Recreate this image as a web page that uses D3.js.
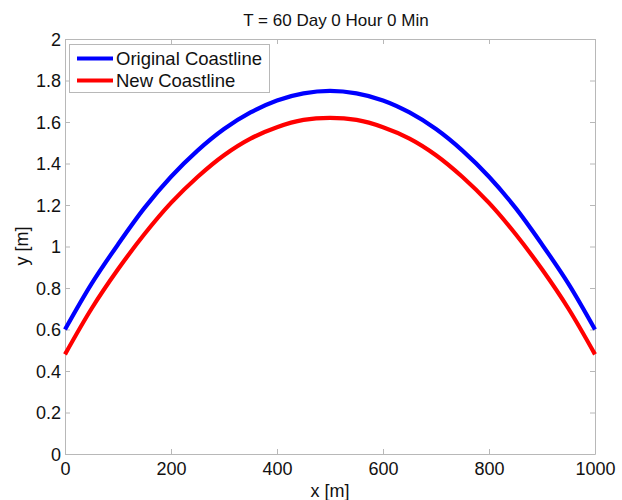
<!DOCTYPE html>
<html><head><meta charset="utf-8">
<script src="https://cdn.jsdelivr.net/npm/d3@7"></script>
<style>body{margin:0;background:#fff}text{font-family:"Liberation Sans",Arial,sans-serif}</style>
</head><body><svg id="c" width="622" height="500"></svg>
<script>
const xs = [0,50,100,150,200,250,300,350,400,450,500,550,600,650,700,750,800,850,900,950,1000];
const original = [0.60,0.82,1.01,1.186,1.336,1.462,1.566,1.646,1.704,1.738,1.75,1.738,1.704,1.646,1.566,1.462,1.336,1.186,1.01,0.82,0.60];
const newLine = [0.48,0.70,0.89,1.06,1.21,1.335,1.44,1.52,1.575,1.61,1.62,1.61,1.575,1.52,1.44,1.335,1.21,1.06,0.89,0.70,0.48];
const xTicks = [0,200,400,600,800,1000];
const yTicks = [0,0.2,0.4,0.6,0.8,1,1.2,1.4,1.6,1.8,2];
const seriesNames = ["Original Coastline","New Coastline"];
const colors = ["#0000ff","#ff0000"];
const title = "T = 60 Day 0 Hour 0 Min";

const svg = d3.select("#c");
const L=65,R=595,T=39,B=454;
const x = d3.scaleLinear().domain([0,1000]).range([L,R]);
const y = d3.scaleLinear().domain([0,2]).range([B,T]);
const axCol="#b8b8b8";
const g = svg.append("g");
const fmt = d => String(d);
const axBottom = g.append("g").attr("transform",`translate(0,${B})`).call(d3.axisBottom(x).tickValues(xTicks).tickFormat(fmt).tickSizeInner(-5).tickSizeOuter(0));
const axTop = g.append("g").attr("transform",`translate(0,${T})`).call(d3.axisTop(x).tickValues(xTicks).tickFormat("").tickSizeInner(-5).tickSizeOuter(0));
const axLeft = g.append("g").attr("transform",`translate(${L},0)`).call(d3.axisLeft(y).tickValues(yTicks).tickFormat(fmt).tickSizeInner(-5).tickSizeOuter(0).tickPadding(4));
const axRight = g.append("g").attr("transform",`translate(${R},0)`).call(d3.axisRight(y).tickValues(yTicks).tickFormat("").tickSizeInner(-5).tickSizeOuter(0));
[axBottom,axTop,axLeft,axRight].forEach(a=>{a.selectAll("path,line").attr("stroke",axCol);a.selectAll("text").attr("fill","#111").style("font-size","18px");});
axBottom.selectAll("text").attr("y",21).attr("dy","0");
axLeft.selectAll("text").attr("dy","0.36em");
const line = d3.line().x((d,i)=>x(xs[i])).y(d=>y(d)).curve(d3.curveCatmullRom);
[original,newLine].forEach((s,k)=>{
  g.append("path").datum(s).attr("d",line).attr("fill","none").attr("stroke",colors[k]).attr("stroke-width",4.2);
});
const lg = svg.append("g");
lg.append("rect").attr("x",69.5).attr("y",44.5).attr("width",200).attr("height",48).attr("fill","#fff").attr("stroke",axCol);
seriesNames.forEach((n,i)=>{
  const yy = 58.5+i*22;
  lg.append("line").attr("x1",77).attr("x2",113).attr("y1",yy).attr("y2",yy).attr("stroke",colors[i]).attr("stroke-width",4.2);
  lg.append("text").attr("x",116).attr("y",yy).attr("dy","0.36em").style("font-size","18.5px").attr("fill","#111").text(n);
});
svg.append("text").attr("x",336).attr("y",26).attr("text-anchor","middle").style("font-size","17px").attr("fill","#111").text(title);
svg.append("text").attr("x",330).attr("y",497).attr("text-anchor","middle").style("font-size","18px").attr("fill","#111").text("x [m]");
svg.append("text").attr("transform","translate(28,246) rotate(-90)").attr("text-anchor","middle").style("font-size","18px").attr("fill","#111").text("y [m]");
</script></body></html>
